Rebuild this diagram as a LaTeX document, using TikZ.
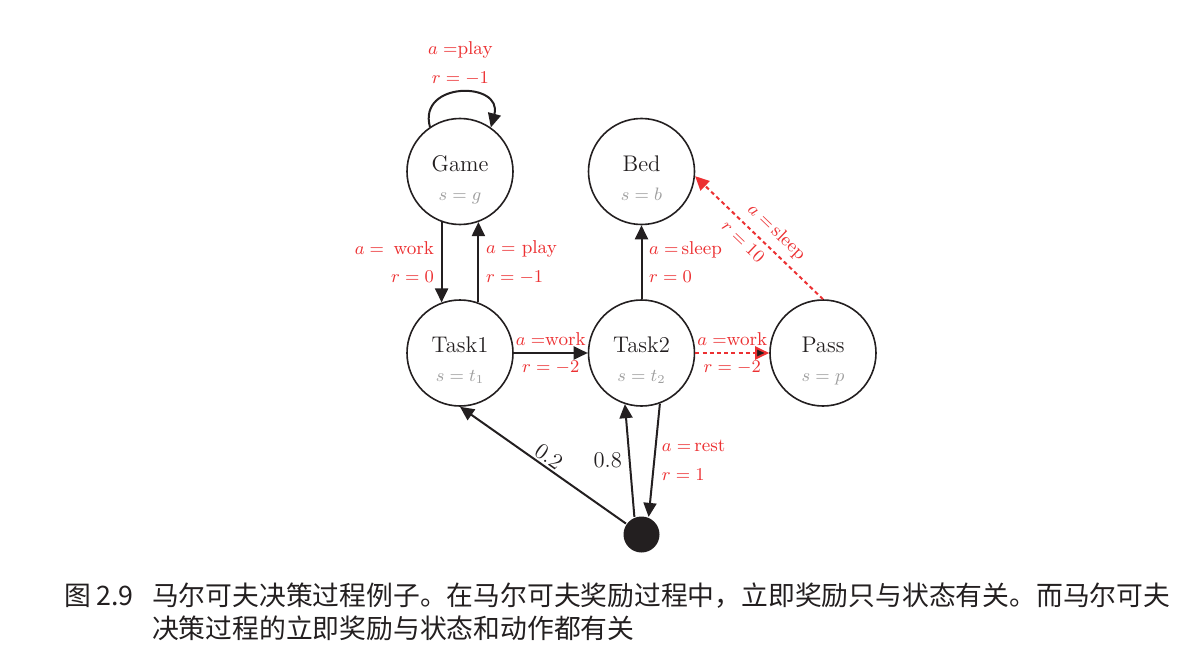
\documentclass[tikz,border=0pt]{standalone}
\usepackage{fontspec}
\newfontfamily\cjk{Noto Sans CJK SC}
\usepackage{xcolor}
\definecolor{colorAction}{RGB}{236,48,50}
\definecolor{colorState}{RGB}{35,31,32}
\colorlet{colorLabel}{black!38}
\usetikzlibrary{arrows.meta, automata, positioning}
\tikzset{every state/.style={minimum size=53pt, inner sep=0pt, line width=0.8pt, draw=colorState, text=colorState, align=center, font=\fontsize{11.3}{14.5}\selectfont},
  act/.style={font=\fontsize{9.3}{14.2}\selectfont, text=colorAction, align=left},
  prob/.style={font=\fontsize{11.3}{14}\selectfont, text=colorState},
  chance/.style={circle, fill=colorState, minimum size=18pt, inner sep=0pt},
  dashedmove/.style={dash pattern=on 2pt off 1.6pt}}
\newcommand{\stlabel}[2]{\rule{0pt}{16pt}#1\\{\fontsize{9.2}{10}\selectfont\color{colorLabel}$s=#2$}\rule[-2pt]{0pt}{0pt}}

\begin{document}
\begin{tikzpicture}[x=0.5pt, y=0.5pt, >={Triangle[length=7pt,width=6.5pt]}, line width=1pt, draw=colorState, node distance=90.75pt]
\useasboundingbox (0,0) rectangle (1178,655);
\node[state] (task1) at (460,302) {\stlabel{Task1}{t_1}};
\node[state, above of=task1] (game) {\stlabel{Game}{g}};
\node[state, right of=task1] (task2) {\stlabel{Task2}{t_2}};
\node[state, above of=task2] (bed) {\stlabel{Bed}{b}};
\node[state, right of=task2] (pass) {\stlabel{Pass}{p}};
\node[chance, below of=task2] (rest) {};
% actions
\draw [->] (game.124) to [out=105, in=75, looseness=2] node [act, above, align=center] {$a=$play\\$r=-1$} (game.55);
\draw [->] (game.-110) -- (task1.110) node [act, midway, left, align=right] {$a=$\ \,work\\$r=0$};
\draw [->] (task1.70) -- (game.-70) node [act, midway, right] {$a=$\ play\\$r=-1$};
\draw [->] (task1) edge node [act, above] {$a=$work} node [act, below] {$r=-2$} (task2);
\draw [->] (task2) edge [right] node [act] {$a=$\,sleep\\$r=0$} (bed);
\draw [->, colorAction, dashedmove] (task2) edge node [act, above] {$a=$work} node [act, below] {$r=-2$} (pass);
\draw [->, colorAction, dashedmove] (pass.north) -- (bed.-5) node [act, pos=0.45, sloped, above] {$a=$\,sleep} node [act, pos=0.55, sloped, below] {$r=10$};
\draw [->] (task2.-70) -- (rest.68) node [act, midway, right] {$a=$\,rest\\$r=1$};
% chance
\draw [->] (rest) -- (task1.south) node [prob, midway, sloped, above, inner sep=1pt] {0.2};
\draw [->] (rest.112) -- (task2.-108) node [prob, midway, left] {0.8};
% caption
\node[anchor=base west, inner sep=0pt, text=colorState, font=\cjk\fontsize{13.4}{16}\selectfont] (fig) at (63,50) {图\hspace{0.2em}2.9};
\node[anchor=base west, inner sep=0pt, text=colorState, font=\cjk\fontsize{13.4}{16}\selectfont] (cap1) at (151,50) {马尔可夫决策过程例子。在马尔可夫奖励过程中，立即奖励只与状态有关。而马尔可夫};
\node[anchor=base west, inner sep=0pt, text=colorState, font=\cjk\fontsize{13.4}{16}\selectfont] (cap2) at (151,17) {决策过程的立即奖励与状态和动作都有关};
\end{tikzpicture}
\end{document}
